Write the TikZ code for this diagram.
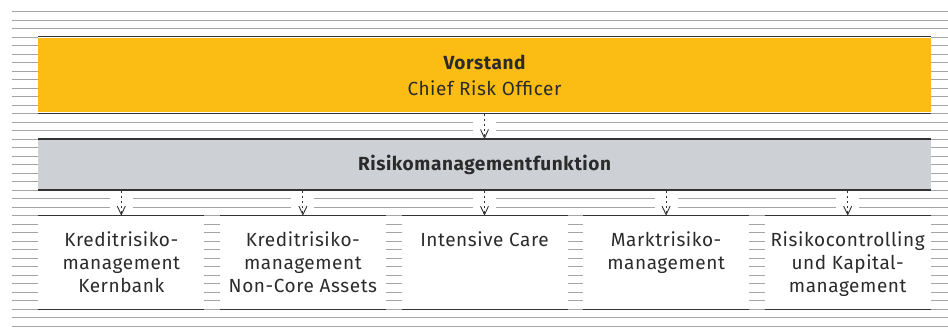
\documentclass[tikz,border=0pt]{standalone}
\usepackage{fontspec}
\setmainfont{Fira Sans}[LetterSpace=3]
\usetikzlibrary{arrows.meta}
\definecolor{cbyellow}{HTML}{FBBD14}
\definecolor{cbgray}{HTML}{CDD1D6}
\definecolor{bgline}{HTML}{A4A4A4}
\definecolor{darkline}{HTML}{333333}
\definecolor{txtcol}{HTML}{2B2B2B}
\tikzset{
  bgl/.style={draw=bgline, line width=1pt},
  edgeline/.style={draw=darkline, line width=1.3pt},
  bigbox/.style={inner sep=0pt, outer sep=0pt, minimum width=892.4pt},
  unitbox/.style={fill=white, inner sep=0pt, outer sep=0pt, minimum width=166pt, minimum height=93.5pt},
  arr/.style={draw=darkline, line width=0.9pt, dash pattern=on 2.2pt off 2.8pt,
              -{Straight Barb[length=8.5pt,width=8pt]}},
  lbl/.style={text=txtcol, font=\fontsize{19}{23.3}\selectfont, inner sep=0pt, align=center},
  lblbold/.style={lbl, font=\fontsize{19}{23.3}\selectfont\bfseries},
}
\begin{document}
\begin{tikzpicture}[x=1pt,y=-1pt]
\useasboundingbox (0,0) rectangle (948,327);
% background lines
\foreach \k in {0,...,37} \draw[bgl] (12,{11.7+8.5*\k}) -- (948,{11.7+8.5*\k});
% covers
\fill[white] (38.3,35.5) rectangle (930.7,114.5);
\fill[white] (38.3,138) rectangle (930.7,191);
\fill[white] (473,116) rectangle (496,136.5);
\foreach \c in {121.3,302.9,484.5,666.1,847.7}
  \fill[white] ({\c-11.5},193) rectangle ({\c+11.5},213);
% boxes
\node[bigbox, fill=cbyellow, minimum height=73.4pt] (vor) at (484.5,75) {};
\draw[edgeline] ([yshift=1.6pt]vor.north west) -- ([yshift=1.6pt]vor.north east);
\draw[edgeline] ([yshift=-1.6pt]vor.south west) -- ([yshift=-1.6pt]vor.south east);
\node[bigbox, fill=cbgray, minimum height=51pt] (rmf) at (484.5,164.5) {};
\draw[edgeline] (rmf.north west) -- (rmf.north east);
\draw[edgeline] (rmf.south west) -- (rmf.south east);
\node[unitbox] (b1) at (121.3,262.45) {};
\node[unitbox] (b2) at (302.9,262.45) {};
\node[unitbox] (b3) at (484.5,262.45) {};
\node[unitbox] (b4) at (666.1,262.45) {};
\node[unitbox] (b5) at (847.7,262.45) {};
\foreach \b in {b1,b2,b3,b4,b5}{
  \draw[edgeline] (\b.north west) -- (\b.north east);
  \draw[edgeline] (\b.south west) -- (\b.south east);
}
% texts
\node[lblbold, anchor=base] (t0a) at (484.5,69.3) {Vorstand};
\node[lbl, anchor=base] (t0b) at (484.5,95) {Chief Risk Officer};
\node[lblbold, anchor=base] (t1) at (484.5,170.7) {Risikomanagementfunktion};
\node[lbl, anchor=north] (l1) at ([yshift=-15.3pt]b1.north) {\rule{0pt}{14pt}Kreditrisiko-\\management\\Kernbank};
\node[lbl, anchor=north] (l2) at ([yshift=-15.3pt]b2.north) {\rule{0pt}{14pt}Kreditrisiko-\\management\\Non-Core Assets};
\node[lbl, anchor=north] (l3) at ([yshift=-15.3pt]b3.north) {\rule{0pt}{14pt}Intensive Care};
\node[lbl, anchor=north] (l4) at ([yshift=-15.3pt]b4.north) {\rule{0pt}{14pt}Marktrisiko-\\management};
\node[lbl, anchor=north] (l5) at ([yshift=-15.3pt]b5.north) {\rule{0pt}{14pt}Risikocontrolling\\und Kapital-\\management};
% arrows
\draw[arr] ([yshift=-2.5pt]vor.south) -- (rmf.north);
\foreach \b in {b1,b2,b3,b4,b5}
  \draw[arr] ([yshift=-1pt]rmf.south -| \b.north) -- (\b.north);
\end{tikzpicture}
\end{document}
